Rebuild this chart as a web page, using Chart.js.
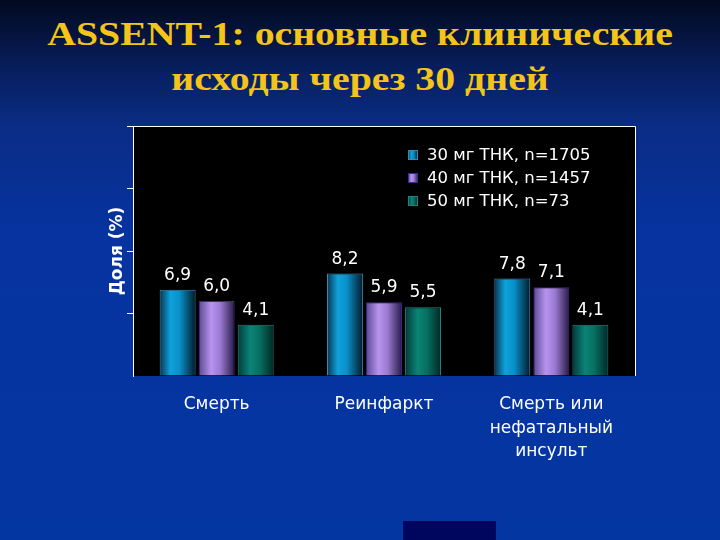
<!DOCTYPE html>
<html>
<head>
<meta charset="utf-8">
<script src="https://cdn.jsdelivr.net/npm/chart.js@4"></script>
<style>
  html, body { margin: 0; padding: 0; }
  body {
    width: 720px; height: 540px; overflow: hidden; position: relative;
    background: linear-gradient(to bottom, #020920 0px, #081f5e 70px, #0a2c84 125px, #0633a0 230px, #0436a2 540px);
  }
  #title {
    position: absolute; left: 0; top: 11px; width: 720px; text-align: center;
    font-family: 'Liberation Serif', serif; font-weight: bold; font-size: 34px;
    line-height: 45px; color: #f4c418;
    transform: scaleX(1.17); transform-origin: 360px 0;
  }
  #wrap { position: absolute; left: 0; top: 0; width: 720px; height: 540px; }
  #deco { position: absolute; left: 403px; top: 521px; width: 93px; height: 19px; background: #00065e; }
</style>
</head>
<body>
<div id="title">ASSENT-1: основные клинические<br>исходы через 30 дней</div>
<div id="wrap"><canvas id="c" width="720" height="540"></canvas></div>
<div id="deco"></div>
<script>
const categories = ['Смерть', 'Реинфаркт', ['Смерть или', 'нефатальный', 'инсульт']];
const seriesNames = ['30 мг ТНК, n=1705', '40 мг ТНК, n=1457', '50 мг ТНК, n=73'];
const tnk30 = [6.9, 8.2, 7.8];
const tnk40 = [6.0, 5.9, 7.1];
const tnk50 = [4.1, 5.5, 4.1];
const yTicks = [0, 5, 10, 15, 20];

const CAT_PCT = 0.70, BAR_PCT = 0.92;
const gradStops = [
  [[0, '#08344f'], [0.3, '#0ea2dc'], [0.55, '#0a90c8'], [1, '#031a2a']],
  [[0, '#5a4896'], [0.35, '#b894ee'], [0.6, '#9a7ad2'], [1, '#281a46']],
  [[0, '#033a3a'], [0.35, '#0a8476'], [0.6, '#087062'], [1, '#022826']]
];
const solid = ['#0e9ad4', '#a98ae6', '#0a7c70'];
const borders = ['#4288aa', '#3a2c8e', '#2a7e82'];

function barGrad(ctx) {
  const chart = ctx.chart, ds = ctx.datasetIndex;
  const x = chart.scales && chart.scales.x;
  if (!x || ctx.dataIndex === undefined || !chart.chartArea) return solid[ds];
  const catW = x.width / categories.length;
  const group = catW * CAT_PCT, slot = group / 3, bw = slot * BAR_PCT;
  const cx = x.getPixelForValue(ctx.dataIndex) - group / 2 + slot * (ds + 0.5);
  const g = chart.ctx.createLinearGradient(cx - bw / 2, 0, cx + bw / 2, 0);
  gradStops[ds].forEach(s => g.addColorStop(s[0], s[1]));
  return g;
}

const areaPlugin = {
  id: 'area',
  beforeDraw(chart) {
    const a = chart.chartArea, c = chart.ctx;
    c.save();
    c.fillStyle = '#000000';
    c.fillRect(a.left, a.top, a.right - a.left, a.bottom - a.top);
    c.strokeStyle = '#ffffff'; c.lineWidth = 1;
    c.beginPath();
    c.moveTo(a.left, a.top + 0.5); c.lineTo(a.right + 0.5, a.top + 0.5);
    c.lineTo(a.right + 0.5, a.bottom);
    c.stroke();
    c.restore();
  }
};

const labelPlugin = {
  id: 'vals',
  afterDatasetsDraw(chart) {
    const c = chart.ctx;
    c.save();
    c.fillStyle = '#ffffff';
    c.font = '17px "DejaVu Sans"';
    c.textAlign = 'center'; c.textBaseline = 'alphabetic';
    chart.data.datasets.forEach((d, i) => {
      chart.getDatasetMeta(i).data.forEach((el, j) => {
        c.fillText(d.data[j].toFixed(1).replace('.', ','), el.x, el.y - 10);
      });
    });
    c.restore();
  }
};

const legendPlugin = {
  id: 'innerLegend',
  afterDraw(chart) {
    const c = chart.ctx;
    c.save();
    c.font = '16.5px "DejaVu Sans"';
    c.textBaseline = 'middle'; c.textAlign = 'left';
    chart.data.datasets.forEach((d, i) => {
      const y = 155 + i * 23;
      const g = c.createLinearGradient(408, 0, 418, 0);
      gradStops[i].forEach(s => g.addColorStop(s[0], s[1]));
      c.fillStyle = g;
      c.fillRect(408, y - 5, 10, 10);
      c.strokeStyle = borders[i]; c.lineWidth = 1;
      c.strokeRect(408.5, y - 4.5, 9, 9);
      c.fillStyle = '#ffffff';
      c.fillText(d.label, 427, y + 1);
    });
    c.restore();
  }
};

new Chart(document.getElementById('c'), {
  type: 'bar',
  data: {
    labels: categories,
    datasets: [tnk30, tnk40, tnk50].map((vals, i) => ({
      label: seriesNames[i],
      data: vals,
      backgroundColor: barGrad,
      borderColor: borders[i],
      borderWidth: 1,
      categoryPercentage: CAT_PCT,
      barPercentage: BAR_PCT
    }))
  },
  options: {
    responsive: false,
    animation: false,
    layout: { padding: { left: 0, right: 85, top: 126, bottom: 0 } },
    plugins: { legend: { display: false }, tooltip: { enabled: false } },
    scales: {
      x: {
        grid: { display: false, drawTicks: false },
        border: { display: false },
        ticks: { color: '#ffffff', font: { family: 'DejaVu Sans', size: 17, lineHeight: 1.38 }, padding: 17, maxRotation: 0, autoSkip: false },
        afterFit(s) { s.height = 164; }
      },
      y: {
        min: 0, max: 20,
        afterBuildTicks(s) { s.ticks = yTicks.map(v => ({ value: v })); },
        grid: { drawOnChartArea: false, drawTicks: true, tickLength: 6, color: c => (c.tick && c.tick.value === 0) ? 'rgba(0,0,0,0)' : '#ffffff' },
        border: { display: true, color: '#ffffff', width: 1 },
        ticks: { display: false },
        title: { display: true, text: 'Доля (%)', color: '#ffffff', font: { family: 'DejaVu Sans', size: 17, weight: 'bold' }, padding: { top: 107, bottom: 0 } },
        afterFit(s) { s.width = 133; }
      }
    }
  },
  plugins: [areaPlugin, labelPlugin, legendPlugin]
});
</script>
</body>
</html>
